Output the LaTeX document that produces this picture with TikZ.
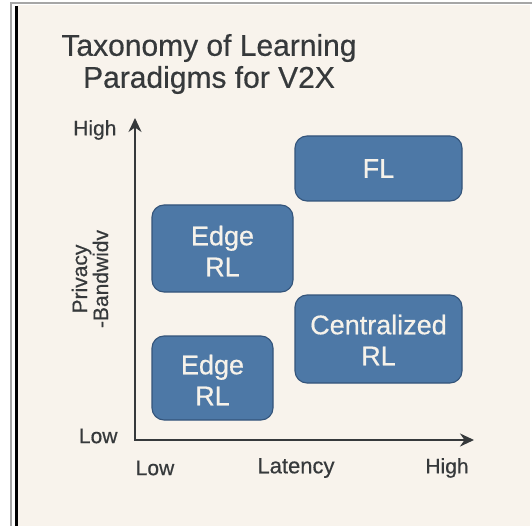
\documentclass[tikz,border=0pt]{standalone}
\usepackage{fontspec}
\setmainfont{Liberation Sans}
\newfontfamily\heavy{Liberation Sans}[FakeBold=0.5]
\usetikzlibrary{arrows.meta}
\definecolor{paper}{HTML}{F8F3EC}
\definecolor{ink}{HTML}{36393B}
\definecolor{boxfill}{HTML}{4D78A6}
\definecolor{boxedge}{HTML}{34547A}
\definecolor{boxtext}{HTML}{F6F2EA}
\tikzset{
  region/.style={draw=boxedge, line width=1.1pt, fill=boxfill, rounded corners=12pt},
  regionlabel/.style={text=boxtext, font=\heavy\fontsize{27}{31}\selectfont, align=center},
  axis/.style={draw=ink, line width=2.8pt, -{Stealth[length=14pt,width=13pt]}},
  ticklabel/.style={text=ink, font=\heavy\fontsize{21}{23}\selectfont},
  axislabel/.style={text=ink, font=\heavy\fontsize{22}{24}\selectfont},
}
\begin{document}
\begin{tikzpicture}[x=1pt,y=-1pt]
  \useasboundingbox (0,0) rectangle (532,526);
  % page frame
  \fill[white] (0,0) rectangle (532,526);
  \fill[paper] (18,5) rectangle (530,526);
  \draw[gray!70, line width=1.5pt] (11,526) -- (11,3) -- (532,3);
  \draw[black, line width=2.5pt] (16.5,6) -- (16.5,526);

  % title
  \node[text=ink, font=\heavy\fontsize{30}{32}\selectfont, align=center] (title) at (209,64)
    {Taxonomy of Learning\\Paradigms for V2X};

  % axes
  \coordinate (origin) at (135,440);
  \coordinate (ytip) at (135,118);
  \coordinate (xtip) at (474,440);
  \draw[axis, -] (origin) -- ++(0,1.4);
  \draw[axis] (origin) -- (ytip);
  \draw[axis] (origin) -- (xtip);

  \node[ticklabel, anchor=east] (yhigh) at (120,130) {High};
  \node[ticklabel, anchor=east] (ylow) at (121,436) {Low};
  \node[ticklabel] (xlow) at (155,468) {Low};
  \node[axislabel] (xname) at (296,468) {Latency};
  \node[ticklabel] (xhigh) at (447,468) {High};

  \node[axislabel, rotate=90, align=center, font=\heavy\fontsize{21}{21}\selectfont] (yname) at (90,279)
    {Privacy\\-Bandwidv};

  % regions
  \draw[region] (295,136) rectangle (462,201);
  \node[regionlabel] (fl) at (378.5,168.5) {FL};

  \draw[region] (152,205) rectangle (293,292);
  \node[regionlabel] (edgetop) at (222.5,251) {Edge\\RL};

  \draw[region] (295,295) rectangle (462,383);
  \node[regionlabel] (central) at (378.5,340) {Centralized\\RL};

  \draw[region] (152,336) rectangle (273,420);
  \node[regionlabel] (edgelow) at (212.5,380) {Edge\\RL};
\end{tikzpicture}
\end{document}
